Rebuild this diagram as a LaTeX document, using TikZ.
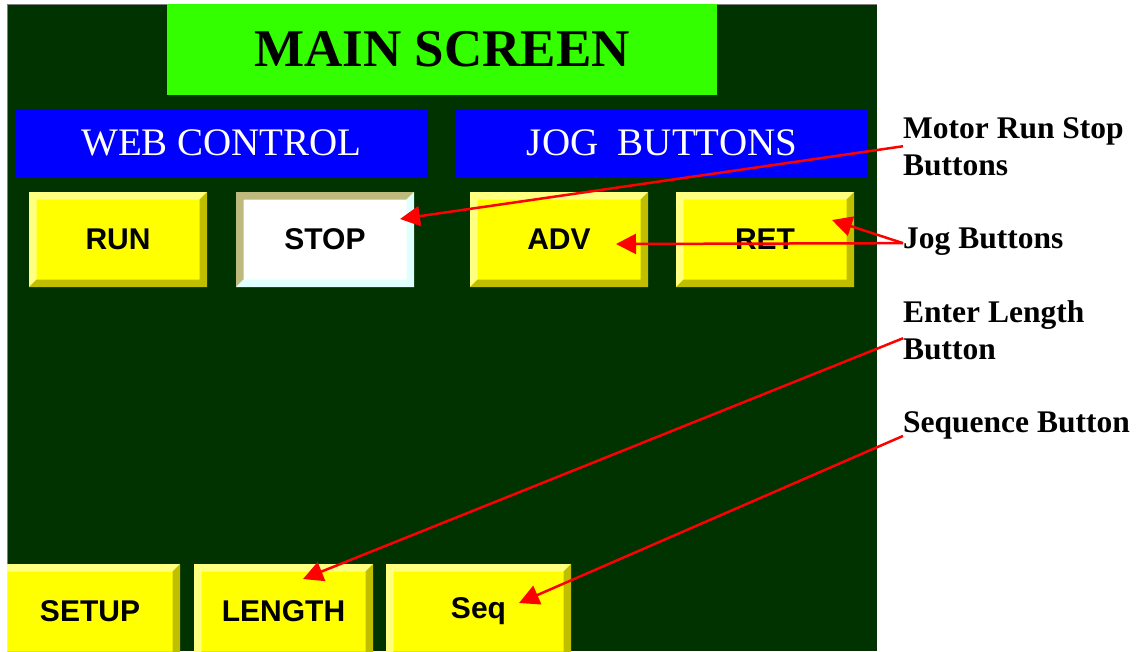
\documentclass[tikz,border=0pt]{standalone}
\usepackage{fontspec}
\setmainfont{Liberation Serif}
\setsansfont{Liberation Sans}
\usetikzlibrary{arrows.meta}
\definecolor{panel}{HTML}{003300}
\definecolor{titlegreen}{HTML}{33FF00}
\definecolor{hdrblue}{HTML}{0000FF}
\definecolor{yel}{HTML}{FFFF00}
\definecolor{yellight}{HTML}{FFFF80}
\definecolor{yeldark}{HTML}{BFBF00}
\definecolor{stoplight}{HTML}{BEB97D}
\definecolor{stopdark}{HTML}{E0FFFF}
\def\ppbb{path picture bounding box}
\tikzset{
  btn/.style 2 args={minimum width=178pt, minimum height=95pt,
    font=\sffamily\bfseries\fontsize{30}{30}\selectfont,
    path picture={
      \fill[#1] (\ppbb.north west) -- (\ppbb.north east)
        -- ([shift={(-7.5pt,-7.5pt)}]\ppbb.north east)
        -- ([shift={(7.5pt,-7.5pt)}]\ppbb.north west)
        -- ([shift={(7.5pt,7.5pt)}]\ppbb.south west)
        -- (\ppbb.south west) -- cycle;
      \fill[#2] (\ppbb.south east) -- (\ppbb.north east)
        -- ([shift={(-7.5pt,-7.5pt)}]\ppbb.north east)
        -- ([shift={(-7.5pt,7.5pt)}]\ppbb.south east)
        -- ([shift={(7.5pt,7.5pt)}]\ppbb.south west)
        -- (\ppbb.south west) -- cycle;
    }},
  ybtn/.style={btn={yellight}{yeldark}, fill=yel},
  hdr/.style={fill=hdrblue, text=white, minimum height=68pt,
    font=\fontsize{39}{39}\selectfont},
  lbl/.style={anchor=base west, align=left, inner sep=0pt,
    font=\bfseries\fontsize{31.5}{37}\selectfont},
  ptr/.style={red, line width=2.5pt, -{Triangle[length=20pt,width=20pt]}}
}
\begin{document}
\begin{tikzpicture}[x=1pt,y=-1pt]
\clip (0,0) rectangle (1140,651);
\fill[white] (0,0) rectangle (1140,651);
% screen
\fill[panel] (7,4) rectangle (877,651);
\draw[gray, line width=1pt] (7,651) -- (7,4) -- (877,4);
\node[fill=titlegreen, minimum width=550pt, minimum height=91pt,
  font=\bfseries\fontsize{53}{53}\selectfont] (title) at (442,49.5) {MAIN SCREEN};
\node[hdr, minimum width=413pt] (web) at (221.5,143) {WEB CONTROL};
\node[hdr, minimum width=412pt] (jog) at (662,143) {JOG\ \ BUTTONS};
% buttons
\node[ybtn] (run) at (118,239.5) {RUN};
\node[btn={stoplight}{stopdark}, fill=white] (stop) at (325,239.5) {STOP};
\node[ybtn] (adv) at (559,239.5) {ADV};
\node[ybtn] (ret) at (765,239.5) {RET};
\begin{scope}
\clip (7,4) rectangle (877,651);
\node[ybtn, minimum width=180pt] (setup) at (90,611.5) {SETUP};
\node[ybtn, minimum width=179pt] (length) at (283.5,611.5) {LENGTH};
\node[ybtn, minimum width=185pt] (seq) at (478.5,611.5) {Seq};
\end{scope}
% labels
\node[lbl] (mrs) at (903,175) {Motor Run Stop\\Buttons};
\node[lbl] (jogl) at (903,248) {Jog Buttons};
\node[lbl] (enl) at (903,359) {Enter Length\\Button};
\node[lbl] (seql) at (903,432) {Sequence Button};
% arrow tips
\coordinate (stoptip) at (400,219);
\coordinate (advtip) at (616,244);
\coordinate (rettip) at (832,220);
\coordinate (lentip) at (303,579);
\coordinate (seqtip) at (519,603);
\draw[ptr] (mrs.west) -- (stoptip);
\draw[ptr] ([yshift=-2pt]jogl.west) -- (advtip);
\draw[ptr] ([yshift=-2pt]jogl.west) -- (rettip);
\draw[ptr] ([yshift=-8.5pt]enl.west) -- (lentip);
\draw[ptr] ([yshift=-11pt]seql.west) -- (seqtip);
\end{tikzpicture}
\end{document}
